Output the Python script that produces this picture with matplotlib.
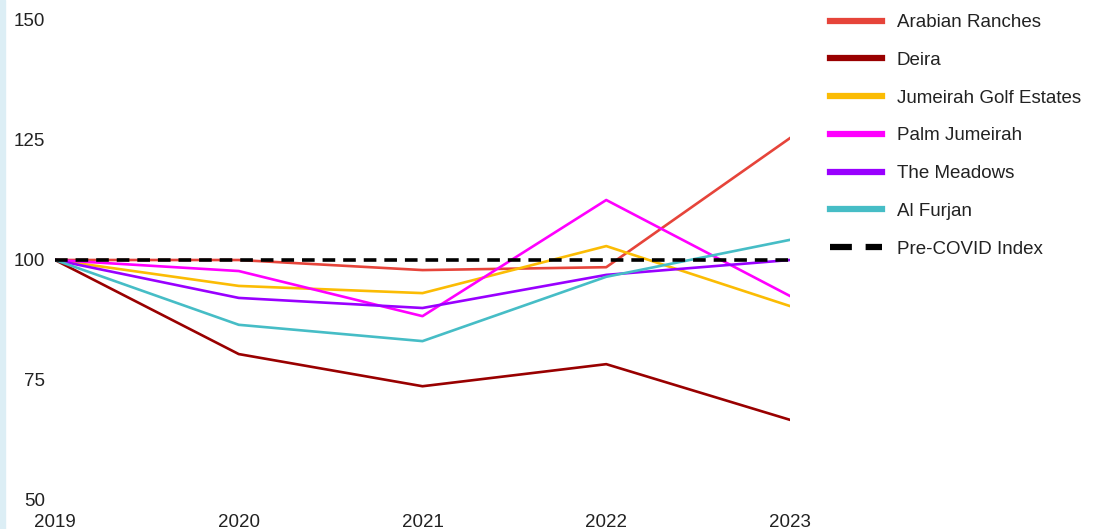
import matplotlib.pyplot as plt
from matplotlib.patches import Rectangle

plt.rcParams['font.family'] = ['Liberation Sans', 'DejaVu Sans']

years = [2019, 2020, 2021, 2022, 2023]

arabian_ranches = [100, 100, 97.9, 98.5, 125.4]
deira = [100, 80.4, 73.7, 78.3, 66.7]
jumeirah_golf = [100, 94.6, 93.1, 102.9, 90.4]
palm_jumeirah = [100, 97.7, 88.3, 112.5, 92.5]
the_meadows = [100, 92.1, 90.0, 96.9, 100.0]
al_furjan = [100, 86.5, 83.1, 96.5, 104.2]
pre_covid = [100, 100, 100, 100, 100]

series = [
    ("Arabian Ranches", arabian_ranches, "#e6443a"),
    ("Deira", deira, "#990000"),
    ("Jumeirah Golf Estates", jumeirah_golf, "#fbbc04"),
    ("Palm Jumeirah", palm_jumeirah, "#ff00ff"),
    ("The Meadows", the_meadows, "#9900ff"),
    ("Al Furjan", al_furjan, "#46bdc6"),
]

fig = plt.figure(figsize=(10.93, 5.29), dpi=100)
fig.patches.append(Rectangle((0, 0), 5 / 1093, 1, transform=fig.transFigure,
                             color="#dceef5", zorder=0))
ax = fig.add_axes([55 / 1093, 1 - 500 / 529, 735 / 1093, 480 / 529])

for name, vals, col in series:
    ax.plot(years, vals, color=col, lw=1.9, label=name)
ax.plot(years, pre_covid, color="black", lw=2.6, linestyle=(0, (3.5, 2.2)),
        label="Pre-COVID Index", zorder=5)

ax.set_xlim(2019, 2023)
ax.set_ylim(50, 150)
ax.set_yticks([50, 75, 100, 125, 150])
ax.set_xticks(years)
ax.tick_params(length=0, labelsize=13.5, colors="#222222")
ax.tick_params(axis="y", pad=7)
ax.tick_params(axis="x", pad=10)
for s in ax.spines.values():
    s.set_visible(False)

leg = fig.legend(loc="upper left", bbox_to_anchor=(830 / 1093, 1 - 14 / 529),
                 frameon=False, fontsize=13.5, handlelength=2.77,
                 handletextpad=0.8, labelspacing=1.1, borderpad=0,
                 borderaxespad=0)
for line in leg.get_lines():
    line.set_linewidth(4.5)
for t in leg.get_texts():
    t.set_color("#222222")

fig.savefig("out.png", dpi=100)
